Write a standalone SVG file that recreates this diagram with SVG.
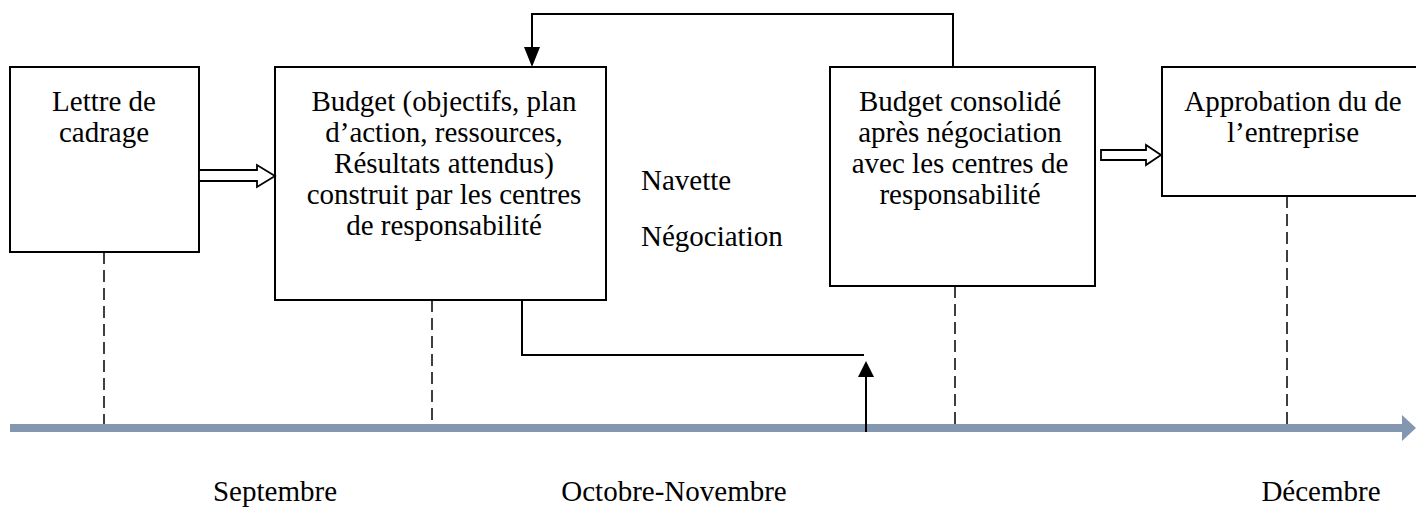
<svg xmlns="http://www.w3.org/2000/svg" width="1416" height="507" viewBox="0 0 1416 507">
  <style>
    .box { fill: #ffffff; stroke: #000000; stroke-width: 2; }
    .lbl { font-family: "Liberation Serif", "Times New Roman", serif; font-size: 29px; fill: #000000; }
    .mid { text-anchor: middle; }
    .link { fill: none; stroke: #000000; stroke-width: 2; }
    .dash { fill: none; stroke: #000000; stroke-width: 1.5; stroke-dasharray: 12 6; }
    .hollow { fill: #ffffff; stroke: #000000; stroke-width: 1.8; stroke-linejoin: miter; }
    .axis { stroke: #8497b0; stroke-width: 8; fill: none; }
  </style>

  <!-- time axis -->
  <g id="timeline">
    <line class="axis" x1="10" y1="428" x2="1403" y2="428"/>
    <path d="M1402,415 L1416,428 L1402,441 Z" fill="#8497b0"/>
  </g>

  <!-- dashed drop lines to the axis -->
  <g id="guides">
    <line class="dash" x1="104" y1="252" x2="104" y2="424"/>
    <line class="dash" x1="432" y1="300" x2="432" y2="424"/>
    <line class="dash" x1="955" y1="286" x2="955" y2="424"/>
    <line class="dash" x1="1287" y1="196" x2="1287" y2="424"/>
  </g>

  <g id="node-lettre">
    <rect class="box" x="10" y="67" width="189" height="185"/>
    <text class="lbl mid" x="104" y="111">Lettre de</text>
    <text class="lbl mid" x="104" y="142">cadrage</text>
  </g>

  <g id="node-budget">
    <rect class="box" x="275" y="67" width="331" height="233"/>
    <text class="lbl mid" x="444" y="111">Budget (objectifs, plan</text>
    <text class="lbl mid" x="444" y="142">d’action, ressources,</text>
    <text class="lbl mid" x="444" y="173">Résultats attendus)</text>
    <text class="lbl mid" x="444" y="204">construit par les centres</text>
    <text class="lbl mid" x="444" y="235">de responsabilité</text>
  </g>

  <g id="node-navette">
    <text class="lbl" x="641" y="190">Navette</text>
    <text class="lbl" x="641" y="246">Négociation</text>
  </g>

  <g id="node-consolide">
    <rect class="box" x="830" y="67" width="265" height="219"/>
    <text class="lbl mid" x="960" y="111">Budget consolidé</text>
    <text class="lbl mid" x="960" y="142">après négociation</text>
    <text class="lbl mid" x="960" y="173">avec les centres de</text>
    <text class="lbl mid" x="960" y="204">responsabilité</text>
  </g>

  <g id="node-approbation">
    <rect class="box" x="1162" y="67" width="262" height="129"/>
    <text class="lbl mid" x="1293" y="111">Approbation du de</text>
    <text class="lbl mid" x="1293" y="142">l’entreprise</text>
  </g>

  <g id="months">
    <text class="lbl mid" x="275" y="501">Septembre</text>
    <text class="lbl mid" x="674" y="501">Octobre-Novembre</text>
    <text class="lbl mid" x="1321" y="501">Décembre</text>
  </g>

  <g id="connectors">
    <!-- block arrows between stages -->
    <path class="hollow" d="M199,170 L257,170 L257,165 L275,176 L257,187 L257,181 L199,181 Z"/>
    <path class="hollow" d="M1101,150 L1146,150 L1146,145 L1161,155 L1146,165 L1146,160 L1101,160 Z"/>
    <!-- feedback loop from consolidated budget back to centres -->
    <polyline class="link" points="953,67 953,14 532,14 532,48"/>
    <path d="M524,47 L540,47 L532,67 Z" fill="#000000"/>
    <!-- negotiation path from budget down toward axis -->
    <polyline class="link" points="522,300 522,355 864,355"/>
    <line class="link" x1="866" y1="432" x2="866" y2="375"/>
    <path d="M858,377 L874,377 L866,361 Z" fill="#000000"/>
  </g>
</svg>
